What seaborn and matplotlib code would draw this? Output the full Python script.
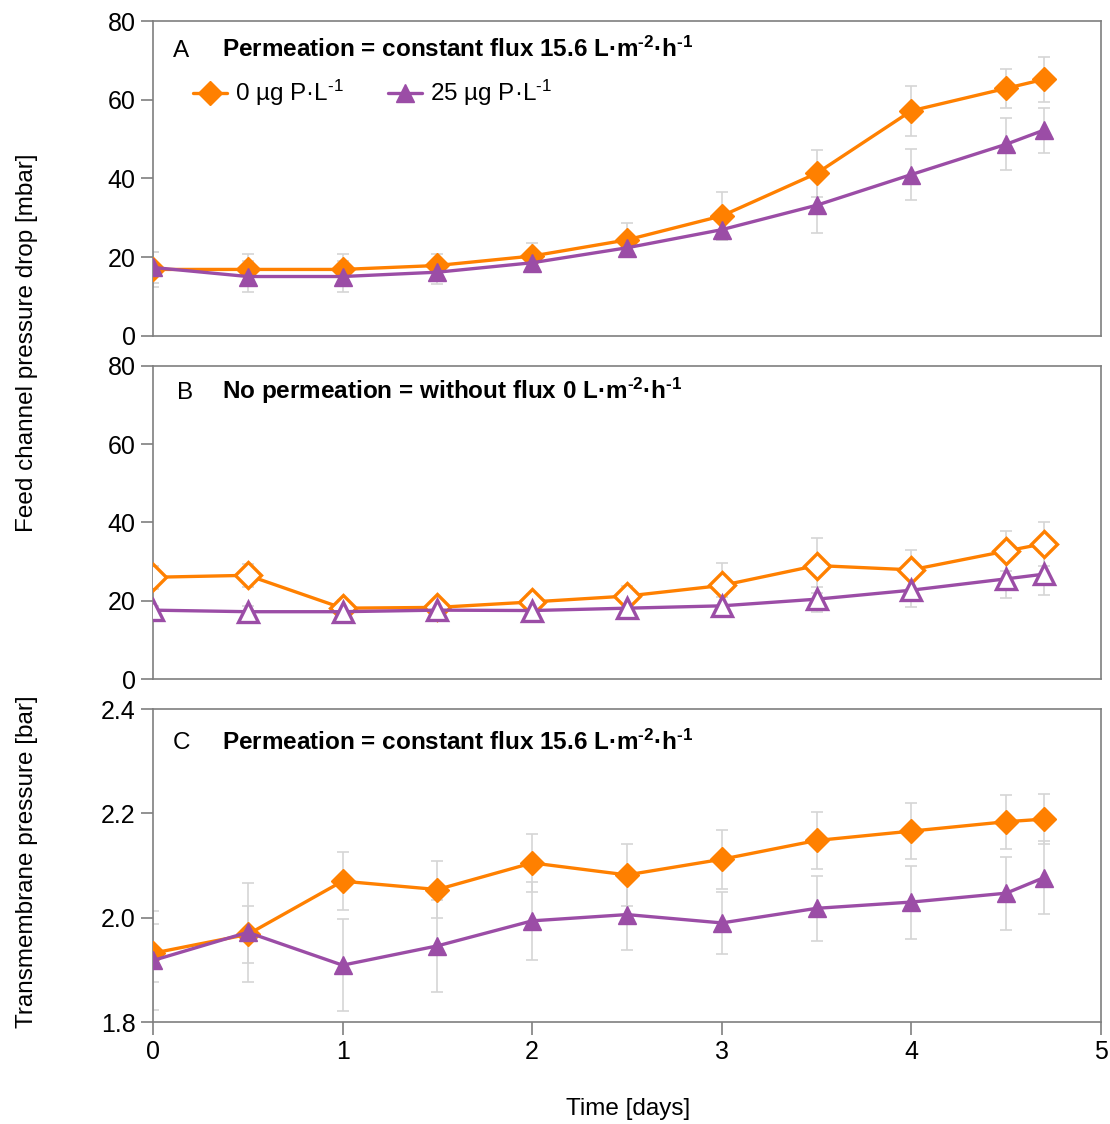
import numpy as np
import pandas as pd
import matplotlib
matplotlib.use("Agg")
import matplotlib.pyplot as plt
import seaborn as sns

# time points [days]
days = [0, 0.5, 1, 1.5, 2, 2.5, 3, 3.5, 4, 4.5, 4.7]

# A: feed channel pressure drop with permeation [mbar]
a_p0 = [16.9, 16.9, 16.9, 17.9, 20.3, 24.4, 30.5, 41.3, 57.2, 62.9, 65.2]
a_p0_err = [4.4, 3.9, 4.0, 3.0, 3.2, 4.3, 6.0, 6.0, 6.4, 5.0, 5.7]
a_p25 = [17.4, 15.1, 15.1, 16.2, 18.6, 22.4, 27.0, 33.2, 41.0, 48.7, 52.3]
a_p25_err = [4.0, 3.9, 4.0, 3.0, 2.0, 2.0, 2.5, 7.0, 6.4, 6.6, 5.7]

# B: feed channel pressure drop without permeation [mbar]
b_p0 = [26.0, 26.5, 18.1, 18.3, 19.7, 21.2, 23.9, 29.0, 27.9, 32.7, 34.6]
b_p0_err = [3.0, 3.0, 2.0, 2.0, 2.0, 2.5, 5.7, 7.0, 5.0, 5.0, 5.6]
b_p25 = [17.6, 17.2, 17.2, 17.6, 17.5, 18.1, 18.7, 20.4, 22.7, 25.6, 26.8]
b_p25_err = [1.0, 1.5, 2.0, 2.0, 1.5, 1.5, 2.3, 3.2, 4.2, 5.0, 5.4]

# C: transmembrane pressure [bar]
c_p0 = [1.932, 1.968, 2.070, 2.054, 2.105, 2.082, 2.112, 2.148, 2.166, 2.184, 2.189]
c_p0_err = [0.055, 0.055, 0.055, 0.054, 0.055, 0.059, 0.057, 0.055, 0.053, 0.052, 0.048]
c_p25 = [1.918, 1.972, 1.909, 1.946, 1.994, 2.006, 1.990, 2.018, 2.030, 2.047, 2.077]
c_p25_err = [0.095, 0.095, 0.088, 0.088, 0.075, 0.068, 0.060, 0.062, 0.070, 0.070, 0.070]

HY = "\u2010"  # short hyphen for the superscripts
labels = [f"0 µg P·L$^{{{HY}1}}$", f"25 µg P·L$^{{{HY}1}}$"]
titles = [f"Permeation = constant flux 15.6 L·m$^{{{HY}2}}$·h$^{{{HY}1}}$",
          f"No permeation = without flux 0 L·m$^{{{HY}2}}$·h$^{{{HY}1}}$",
          f"Permeation = constant flux 15.6 L·m$^{{{HY}2}}$·h$^{{{HY}1}}$"]
letters = ["A", "B", "C"]
letter_x = [0.021, 0.025, 0.021]
text_y = [0.886, 0.895, 0.871]

orange = "#FF8000"
purple = "#9B4DA6"
grey = "#7F7F7F"
FS = 17.5

sns.set_style("white")
plt.rcParams["font.family"] = ["Liberation Sans", "DejaVu Sans"]
plt.rcParams["mathtext.default"] = "regular"
plt.rcParams["text.color"] = "black"
plt.rcParams["xtick.labelcolor"] = "black"
plt.rcParams["ytick.labelcolor"] = "black"

fig = plt.figure(figsize=(11.10, 11.24), dpi=100)
left, width = 0.1378, 0.8541
ax_a = fig.add_axes([left, 0.7011, width, 0.2802])
ax_b = fig.add_axes([left, 0.3959, width, 0.2785])
ax_c = fig.add_axes([left, 0.0907, width, 0.2785])

panels = [
    (ax_a, a_p0, a_p0_err, a_p25, a_p25_err, False),
    (ax_b, b_p0, b_p0_err, b_p25, b_p25_err, True),
    (ax_c, c_p0, c_p0_err, c_p25, c_p25_err, False),
]

for i, (ax, y0, e0, y25, e25, hollow) in enumerate(panels):
    for y, e, col, mk, ms, lab in [(y0, e0, orange, "D", 12.5, labels[0]),
                                   (y25, e25, purple, "^", 13, labels[1])]:
        df = pd.DataFrame({"days": days, "value": y})
        ax.errorbar(days, y, yerr=e, fmt="none", ecolor="#D5D5D5",
                    elinewidth=1.2, capsize=4, capthick=1.2, zorder=1)
        sns.lineplot(data=df, x="days", y="value", ax=ax, color=col,
                     marker=mk, markersize=ms + 1 if hollow else ms,
                     linewidth=2.4,
                     markerfacecolor="white" if hollow else col,
                     markeredgecolor=col,
                     markeredgewidth=2.4 if hollow else 1,
                     label=lab, zorder=3)

    ax.set_xlim(0, 5)
    ax.set_xlabel("")
    ax.set_ylabel("")
    for s in ax.spines.values():
        s.set_color(grey)
        s.set_linewidth(1.2)
    ax.tick_params(axis="y", direction="out", length=9, width=1.2,
                   color=grey, labelsize=18, left=True, pad=3.5)
    ax.text(letter_x[i], text_y[i], letters[i], transform=ax.transAxes,
            fontsize=FS, va="baseline", ha="left")
    ax.text(0.0728, text_y[i], titles[i], transform=ax.transAxes,
            fontsize=FS, fontweight="bold", va="baseline", ha="left")
    if ax.get_legend() is not None:
        ax.get_legend().remove()

for ax in (ax_a, ax_b):
    ax.set_ylim(0, 80)
    ax.set_yticks([0, 20, 40, 60, 80])
    ax.tick_params(axis="x", bottom=False, labelbottom=False)

ax_c.set_ylim(1.8, 2.4)
ax_c.set_yticks([1.8, 2.0, 2.2, 2.4])
ax_c.set_yticklabels(["1.8", "2.0", "2.2", "2.4"])
ax_c.set_xticks([0, 1, 2, 3, 4, 5])
ax_c.tick_params(axis="x", direction="out", length=9, width=1.2, color=grey,
                 labelsize=18, bottom=True, pad=4)

handles, labs = ax_a.get_legend_handles_labels()
ax_a.legend(handles[:2], labs[:2], ncol=2, frameon=False, fontsize=FS,
            loc="center left", bbox_to_anchor=(0.042, 0.771),
            borderpad=0, borderaxespad=0,
            handlelength=1.4, columnspacing=1.8, handletextpad=0.35)

fig.text(0.024, 0.6953, "Feed channel pressure drop [mbar]", rotation=90,
         fontsize=FS, va="center", ha="center")
fig.text(0.024, 0.233, "Transmembrane pressure [bar]", rotation=90,
         fontsize=FS, va="center", ha="center")
fig.text(0.5658, 0.0133, "Time [days]", fontsize=FS, va="center", ha="center")

fig.savefig("out.png", dpi=100)
